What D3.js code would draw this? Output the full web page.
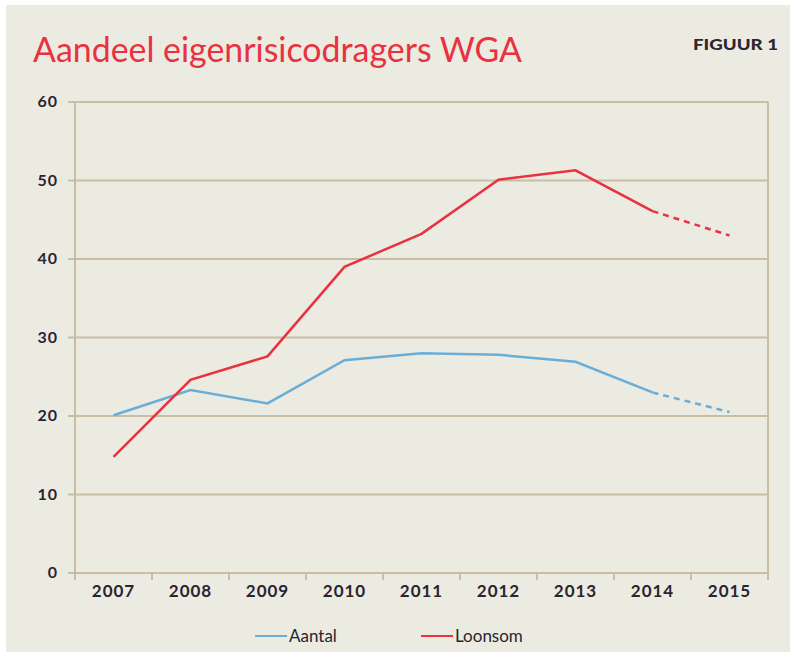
<!DOCTYPE html>
<html>
<head>
<meta charset="utf-8">
<script src="https://cdn.jsdelivr.net/npm/d3@7"></script>
<style>
  body { margin: 0; background: #fff; }
  svg text { font-family: Lato, "Open Sans", sans-serif; }
</style>
</head>
<body>
<svg id="chart" width="790" height="652"></svg>
<script>
// data
var years = ["2007", "2008", "2009", "2010", "2011", "2012", "2013", "2014", "2015"];
var aantal = [20.1, 23.3, 21.6, 27.1, 28.0, 27.8, 26.9, 23.0, 20.5];
var loonsom = [14.8, 24.6, 27.6, 39.0, 43.2, 50.1, 51.3, 46.1, 43.0];
var yTicks = [0, 10, 20, 30, 40, 50, 60];
var seriesNames = ["Aantal", "Loonsom"];
var seriesColors = ["#6aaed8", "#e8323f"];
var estimateFrom = "2014"; // dashed part after this year

var svg = d3.select("#chart");

// beige panel
svg.append("rect")
  .attr("x", 6).attr("y", 5)
  .attr("width", 784).attr("height", 647)
  .attr("fill", "#ecebe2");

svg.append("text")
  .attr("x", 33).attr("y", 62)
  .attr("fill", "#e8323f")
  .style("font-size", "35px")
  .attr("textLength", 489)
  .attr("lengthAdjust", "spacingAndGlyphs")
  .text("Aandeel eigenrisicodragers WGA");

svg.append("text")
  .attr("x", 693).attr("y", 50)
  .attr("fill", "#2b2630")
  .style("font-size", "15px")
  .style("font-weight", "900")
  .attr("textLength", 85)
  .attr("lengthAdjust", "spacingAndGlyphs")
  .text("FIGUUR 1");

var plotLeft = 75, plotRight = 768, plotTop = 102, plotBottom = 573;

var x = d3.scaleBand().domain(years).range([plotLeft, plotRight]);
var y = d3.scaleLinear().domain([0, 60]).range([plotBottom, plotTop]);

var gridColor = "#c9bda5";

// horizontal gridlines
svg.append("g")
  .selectAll("line")
  .data(yTicks)
  .enter()
  .append("line")
  .attr("x1", plotLeft - 7).attr("x2", plotRight)
  .attr("y1", d => y(d)).attr("y2", d => y(d))
  .attr("stroke", gridColor)
  .attr("stroke-width", 2);

// y axis + right border
[plotLeft, plotRight].forEach(function(px) {
  svg.append("line")
    .attr("x1", px).attr("x2", px)
    .attr("y1", plotTop).attr("y2", plotBottom + 7)
    .attr("stroke", gridColor).attr("stroke-width", 2);
});

// x ticks between bands
svg.append("g")
  .selectAll("line")
  .data(years.slice(1))
  .enter()
  .append("line")
  .attr("x1", d => x(d)).attr("x2", d => x(d))
  .attr("y1", plotBottom).attr("y2", plotBottom + 7)
  .attr("stroke", gridColor).attr("stroke-width", 2);

var labelColor = "#29242e";

svg.append("g")
  .selectAll("text")
  .data(yTicks)
  .enter()
  .append("text")
  .attr("x", 58)
  .attr("y", d => y(d) + 5)
  .attr("text-anchor", "end")
  .attr("fill", labelColor)
  .style("font-size", "16px")
  .style("font-weight", "bold")
  .style("letter-spacing", "1px")
  .text(d => d);

svg.append("g")
  .selectAll("text")
  .data(years)
  .enter()
  .append("text")
  .attr("x", d => x(d) + x.bandwidth() / 2)
  .attr("y", 597)
  .attr("text-anchor", "middle")
  .attr("fill", labelColor)
  .style("font-size", "17px")
  .style("font-weight", "bold")
  .style("letter-spacing", "1px")
  .text(d => d);

var line = d3.line()
  .x(d => x(d.year) + x.bandwidth() / 2)
  .y(d => y(d.value));

[aantal, loonsom].forEach(function(vals, i) {
  var pts = years.map((yr, j) => ({ year: yr, value: vals[j] }));
  var cut = years.indexOf(estimateFrom);
  svg.append("path")
    .datum(pts.slice(0, cut + 1))
    .attr("fill", "none")
    .attr("stroke", seriesColors[i])
    .attr("stroke-width", 2.5)
    .attr("d", line);
  svg.append("path")
    .datum(pts.slice(cut))
    .attr("fill", "none")
    .attr("stroke", seriesColors[i])
    .attr("stroke-width", 2.5)
    .attr("stroke-dasharray", "6,5")
    .attr("d", line);
});

// legend
var legendX = [255, 421];
seriesNames.forEach(function(name, i) {
  svg.append("line")
    .attr("x1", legendX[i]).attr("x2", legendX[i] + 32)
    .attr("y1", 636).attr("y2", 636)
    .attr("stroke", seriesColors[i])
    .attr("stroke-width", 2);
  svg.append("text")
    .attr("x", legendX[i] + 34).attr("y", 642)
    .attr("fill", labelColor)
    .style("font-size", "17px")
    .text(name);
});
</script>
</body>
</html>
